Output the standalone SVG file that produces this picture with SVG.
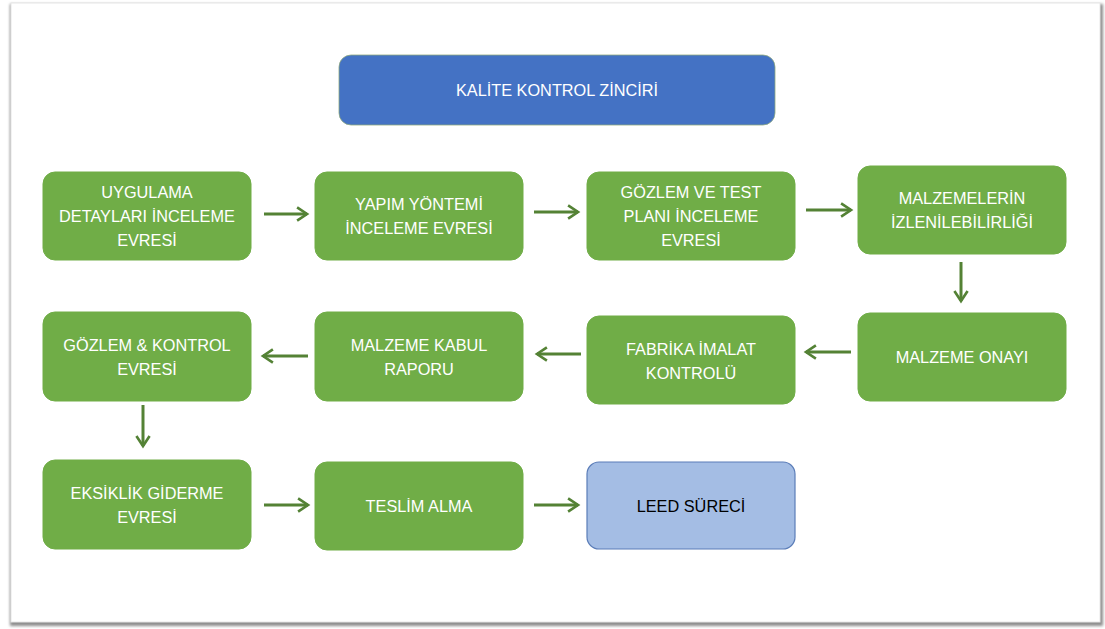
<svg xmlns="http://www.w3.org/2000/svg" width="1105" height="629" viewBox="0 0 1105 629">
<defs>
<style>
.g{fill:#70AD47;stroke:#70AD47;stroke-width:1}
.t{font-family:"Liberation Sans",Arial,sans-serif;font-size:16.3px;fill:#FFFFFF;text-anchor:middle}
.c{fill:none;stroke:#548235;stroke-width:3}
</style>
<marker id="ah" viewBox="0 0 10 10" refX="8" refY="5" markerWidth="5.5" markerHeight="5.5" orient="auto" markerUnits="strokeWidth">
<path d="M2,1 L8,5 L2,9" fill="none" stroke="#548235" stroke-width="1.6"/>
</marker>
<filter id="sh" x="-5%" y="-5%" width="110%" height="110%">
<feGaussianBlur stdDeviation="1.5"/>
</filter>
</defs>
<rect x="0" y="0" width="1105" height="629" fill="#FFFFFF"/>
<rect x="10" y="4" width="1093" height="622" fill="#8C8C8C" filter="url(#sh)"/>
<rect x="11" y="3" width="1089" height="619" fill="#FFFFFF" stroke="#E6E6E6" stroke-width="1"/>

<g id="title">
<rect x="339" y="55" width="436" height="70" rx="12" fill="#4472C4" stroke="#8FAA7F" stroke-width="0.8"/>
<text class="t" x="557" y="96">KALİTE KONTROL ZİNCİRİ</text>
</g>

<g id="n1">
<rect class="g" x="43" y="172" width="208" height="88" rx="12"/>
<text class="t" x="147" y="198">UYGULAMA</text>
<text class="t" x="147" y="222">DETAYLARI İNCELEME</text>
<text class="t" x="147" y="246">EVRESİ</text>
</g>
<g id="n2">
<rect class="g" x="315" y="172" width="208" height="88" rx="12"/>
<text class="t" x="419" y="210">YAPIM YÖNTEMİ</text>
<text class="t" x="419" y="234">İNCELEME EVRESİ</text>
</g>
<g id="n3">
<rect class="g" x="587" y="172" width="208" height="88" rx="12"/>
<text class="t" x="691" y="198">GÖZLEM VE TEST</text>
<text class="t" x="691" y="222">PLANI İNCELEME</text>
<text class="t" x="691" y="246">EVRESİ</text>
</g>
<g id="n4">
<rect class="g" x="858" y="166" width="208" height="88" rx="12"/>
<text class="t" x="962" y="204">MALZEMELERİN</text>
<text class="t" x="962" y="228">İZLENİLEBİLİRLİĞİ</text>
</g>
<g id="n5">
<rect class="g" x="43" y="312" width="208" height="89" rx="12"/>
<text class="t" x="147" y="351">GÖZLEM &amp; KONTROL</text>
<text class="t" x="147" y="375">EVRESİ</text>
</g>
<g id="n6">
<rect class="g" x="315" y="312" width="208" height="89" rx="12"/>
<text class="t" x="419" y="351">MALZEME KABUL</text>
<text class="t" x="419" y="375">RAPORU</text>
</g>
<g id="n7">
<rect class="g" x="587" y="316" width="208" height="88" rx="12"/>
<text class="t" x="691" y="355">FABRİKA İMALAT</text>
<text class="t" x="691" y="379">KONTROLÜ</text>
</g>
<g id="n8">
<rect class="g" x="858" y="313" width="208" height="88" rx="12"/>
<text class="t" x="962" y="363">MALZEME ONAYI</text>
</g>
<g id="n9">
<rect class="g" x="43" y="460" width="208" height="89" rx="12"/>
<text class="t" x="147" y="499">EKSİKLİK GİDERME</text>
<text class="t" x="147" y="523">EVRESİ</text>
</g>
<g id="n10">
<rect class="g" x="315" y="462" width="208" height="88" rx="12"/>
<text class="t" x="419" y="512">TESLİM ALMA</text>
</g>
<g id="n11">
<rect x="587" y="462" width="208" height="87" rx="12" fill="#A4BDE4" stroke="#5B7DB8" stroke-width="1.2"/>
<text class="t" x="691" y="512" style="fill:#000000">LEED SÜRECİ</text>
</g>

<g id="connectors">
<line class="c" x1="264" y1="214" x2="307" y2="214" marker-end="url(#ah)"/>
<line class="c" x1="534" y1="212" x2="578" y2="212" marker-end="url(#ah)"/>
<line class="c" x1="806" y1="210" x2="851" y2="210" marker-end="url(#ah)"/>
<line class="c" x1="961" y1="262" x2="961" y2="301" marker-end="url(#ah)"/>
<line class="c" x1="308" y1="356" x2="263" y2="356" marker-end="url(#ah)"/>
<line class="c" x1="581" y1="354" x2="537" y2="354" marker-end="url(#ah)"/>
<line class="c" x1="851" y1="352" x2="806" y2="352" marker-end="url(#ah)"/>
<line class="c" x1="143" y1="405" x2="143" y2="446" marker-end="url(#ah)"/>
<line class="c" x1="264" y1="505" x2="308" y2="505" marker-end="url(#ah)"/>
<line class="c" x1="534" y1="505" x2="578" y2="505" marker-end="url(#ah)"/>
</g>
</svg>
